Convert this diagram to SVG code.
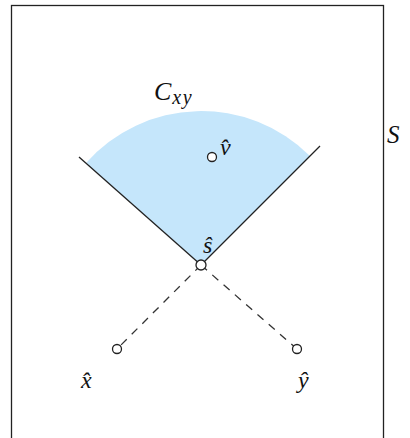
<svg xmlns="http://www.w3.org/2000/svg" width="410" height="438" viewBox="0 0 410 438">
<style>
.m{font-family:"Liberation Serif","DejaVu Serif",serif;font-style:italic;fill:#111}
.node{fill:#fff;stroke:#222;stroke-width:1.3}
.edge{stroke:#222;stroke-width:1.3;fill:none}
.dash{stroke:#333;stroke-width:1.3;stroke-dasharray:8,7;fill:none}
</style>
<rect x="11.5" y="5.5" width="372" height="450" fill="#fff" stroke="#222" stroke-width="1.3"/>
<text class="m" x="387" y="143" font-size="25">S</text>
<g id="cone">
<path d="M201,265 L86,163 A154,154 0 0 1 310,156 Z" fill="#c5e6fb"/>
<text class="m" x="154" y="100" font-size="26">C<tspan font-size="20" dy="4" dx="1" letter-spacing="1.5">xy</tspan></text>
</g>
<g id="connectors">
<line class="edge" x1="79" y1="157" x2="201" y2="265"/>
<line class="edge" x1="201" y1="265" x2="320" y2="146"/>
<line class="dash" x1="201" y1="265" x2="117" y2="349"/>
<line class="dash" x1="201" y1="265" x2="297" y2="349"/>
</g>
<g id="s">
<circle class="node" cx="201" cy="265" r="5"/>
<text class="m" x="203" y="253" font-size="24">ŝ</text>
</g>
<g id="v">
<circle class="node" cx="212" cy="157" r="4.5"/>
<text class="m" x="220" y="155" font-size="24">v̂</text>
</g>
<g id="x">
<circle class="node" cx="117" cy="349" r="4.5"/>
<text class="m" x="81" y="388" font-size="24">x̂</text>
</g>
<g id="y">
<circle class="node" cx="297" cy="349" r="4.5"/>
<text class="m" x="298" y="388" font-size="24">ŷ</text>
</g>
</svg>
